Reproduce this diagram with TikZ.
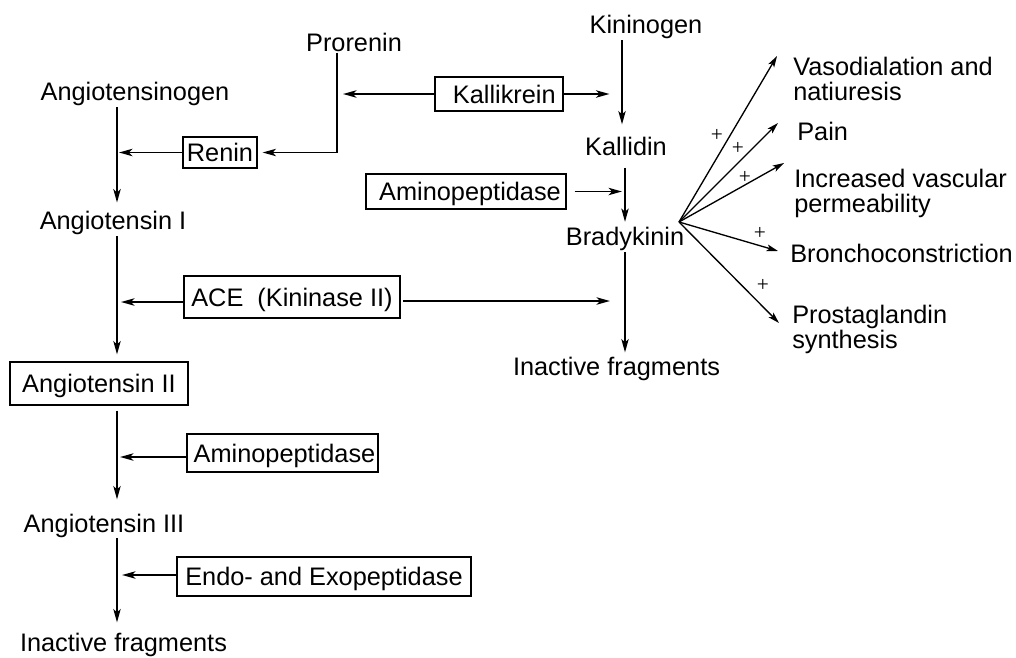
\documentclass[tikz,border=0pt]{standalone}
\usepackage{fontspec}
\setmainfont{Liberation Sans}
\newfontfamily\plusfont{Liberation Serif}
\usetikzlibrary{arrows.meta,calc}
\begin{document}
\begin{tikzpicture}[x=0.75pt,y=-0.75pt,
  txt/.style={font=\fontsize{19}{18.75}\selectfont, inner sep=0pt, anchor=base},
  lbl/.style={font=\fontsize{19}{18.75}\selectfont, inner sep=0pt, anchor=north west, align=left},
  lbl1/.style={font=\fontsize{19}{18.75}\selectfont, inner sep=0pt, anchor=base west},
  box/.style={draw, line width=0.8pt, font=\fontsize{19}{18.75}\selectfont, inner sep=0pt, text height=13.6pt, text depth=0pt},
  arr/.style={line width=1.4pt, -{Stealth[length=10pt,width=5.5pt,inset=2.5pt]}},
  fan/.style={line width=1pt, -{Stealth[length=8.5pt,width=5pt,inset=2pt]}},
  plus/.style={font=\plusfont\fontsize{16}{16}\selectfont, inner sep=0pt}
]
\useasboundingbox (0,0) rectangle (1016,657);

% spine coordinates
\coordinate (spA) at (117,0);
\coordinate (spK) at (622,0);
\coordinate (spB) at (625,0);
\coordinate (prX) at (337,0);

% text nodes
\node[txt] (prorenin) at (354,51) {Prorenin};
\node[txt] (agen) at (135,100) {Angiotensinogen};
\node[txt] (ang1) at (113,229) {Angiotensin I};
\node[txt] (ang3) at (104,532) {Angiotensin III};
\node[txt] (inact2) at (123.5,651) {Inactive fragments};
\node[txt] (kininogen) at (646,33) {Kininogen};
\node[txt] (kallidin) at (626,155) {Kallidin};
\node[txt] (brady) at (625,245) {Bradykinin};
\node[txt] (inact1) at (616.5,375) {Inactive fragments};

% boxes
\node[box, minimum width=55.5pt, minimum height=23.25pt] (renin) at (220,152.5) {Renin};
\node[box, minimum width=96pt, minimum height=25.5pt] (kallik) at (499,94) {\hspace{8pt}Kallikrein};
\node[box, minimum width=150pt, minimum height=26.25pt] (amino1) at (466,191.5) {\hspace{6pt}Aminopeptidase};
\node[box, minimum width=162pt, minimum height=31.5pt] (ace) at (292,297) {ACE\ \ (Kininase II)};
\node[box, minimum width=133.5pt, minimum height=32.25pt] (ang2) at (99,383.5) {Angiotensin II};
\node[box, minimum width=143.25pt, minimum height=28.5pt] (amino2) at (282.5,453) {\hspace{3pt}Aminopeptidase};
\node[box, minimum width=220.5pt, minimum height=29.25pt] (endo) at (324,576.5) {Endo- and Exopeptidase};

% right-hand labels
\node[lbl] (vas) at (793,57) {Vasodialation and\\natiuresis};
\node[lbl1] (pain) at (797,140) {Pain};
\node[lbl] (incr) at (794,169) {Increased vascular\\permeability};
\node[lbl1] (bron) at (790,262) {Bronchoconstriction};
\node[lbl] (prost) at (792,305) {Prostaglandin\\synthesis};

% left spine
\draw[arr, shorten <=1.3pt, shorten >=5.9pt] (agen.south -| spA) -- (ang1.north -| spA);
\draw[arr, shorten <=1.3pt, shorten >=5.3pt] (ang1.south -| spA) -- (ang2.north -| spA);
\draw[arr, shorten <=3.8pt, shorten >=10.5pt] (ang2.south -| spA) -- (ang3.north -| spA);
\draw[arr, shorten <=0.5pt, shorten >=7.5pt] (ang3.south -| spA) -- (inact2.north -| spA);

% kinin spine
\draw[arr, shorten <=1.3pt, shorten >=9pt] (kininogen.south -| spK) -- (kallidin.north -| spK);
\draw[arr, shorten <=9pt, shorten >=3.4pt] (kallidin.south -| spB) -- (brady.north -| spB);
\draw[arr, shorten <=1.3pt, shorten >=3pt] (brady.south -| spB) -- (inact1.north -| spB);

% enzyme arrows
\draw[arr, shorten >=1.5pt] (renin.west) -- (renin.west -| spA);
\draw[arr, shorten <=0.75pt, shorten >=3.8pt] (prorenin.south -| prX) |- (renin.east);
\draw[arr, shorten >=4.5pt] (kallik.west) -- (kallik.west -| prX);
\draw[arr, shorten >=9.4pt] (kallik.east) -- (kallik.east -| spK);
\draw[arr, shorten <=6pt, shorten >=2.3pt] (amino1.east) -- (amino1.east -| spB);
\draw[arr, shorten >=3pt] ($(ace.west)+(0,5)$) -- ($(ace.west -| spA)+(0,5)$);
\draw[arr, shorten <=2.2pt, shorten >=11.3pt] ($(ace.east)+(0,4)$) -- ($(ace.east -| spB)+(0,4)$);
\draw[arr, shorten >=2.3pt] ($(amino2.west)+(0,4)$) -- ($(amino2.west -| spA)+(0,4)$);
\draw[arr, shorten >=3.8pt] ($(endo.west)+(0,-1.5)$) -- ($(endo.west -| spA)+(0,-1.5)$);

% fan
\coordinate (fan) at (679,222);
\coordinate (t1) at (777,56);
\coordinate (t2) at (778,123);
\coordinate (t3) at (784,163);
\coordinate (t4) at (778,251);
\coordinate (t5) at (779,323);
\draw[fan] (fan) -- (t1);
\draw[fan] (fan) -- (t2);
\draw[fan] (fan) -- (t3);
\draw[fan] (fan) -- (t4);
\draw[fan] (fan) -- (t5);

\node[plus] (p1) at (717,135) {+};
\node[plus] (p2) at (738,148) {+};
\node[plus] (p3) at (745,177) {+};
\node[plus] (p4) at (760,233) {+};
\node[plus] (p5) at (763,285) {+};
\end{tikzpicture}
\end{document}
